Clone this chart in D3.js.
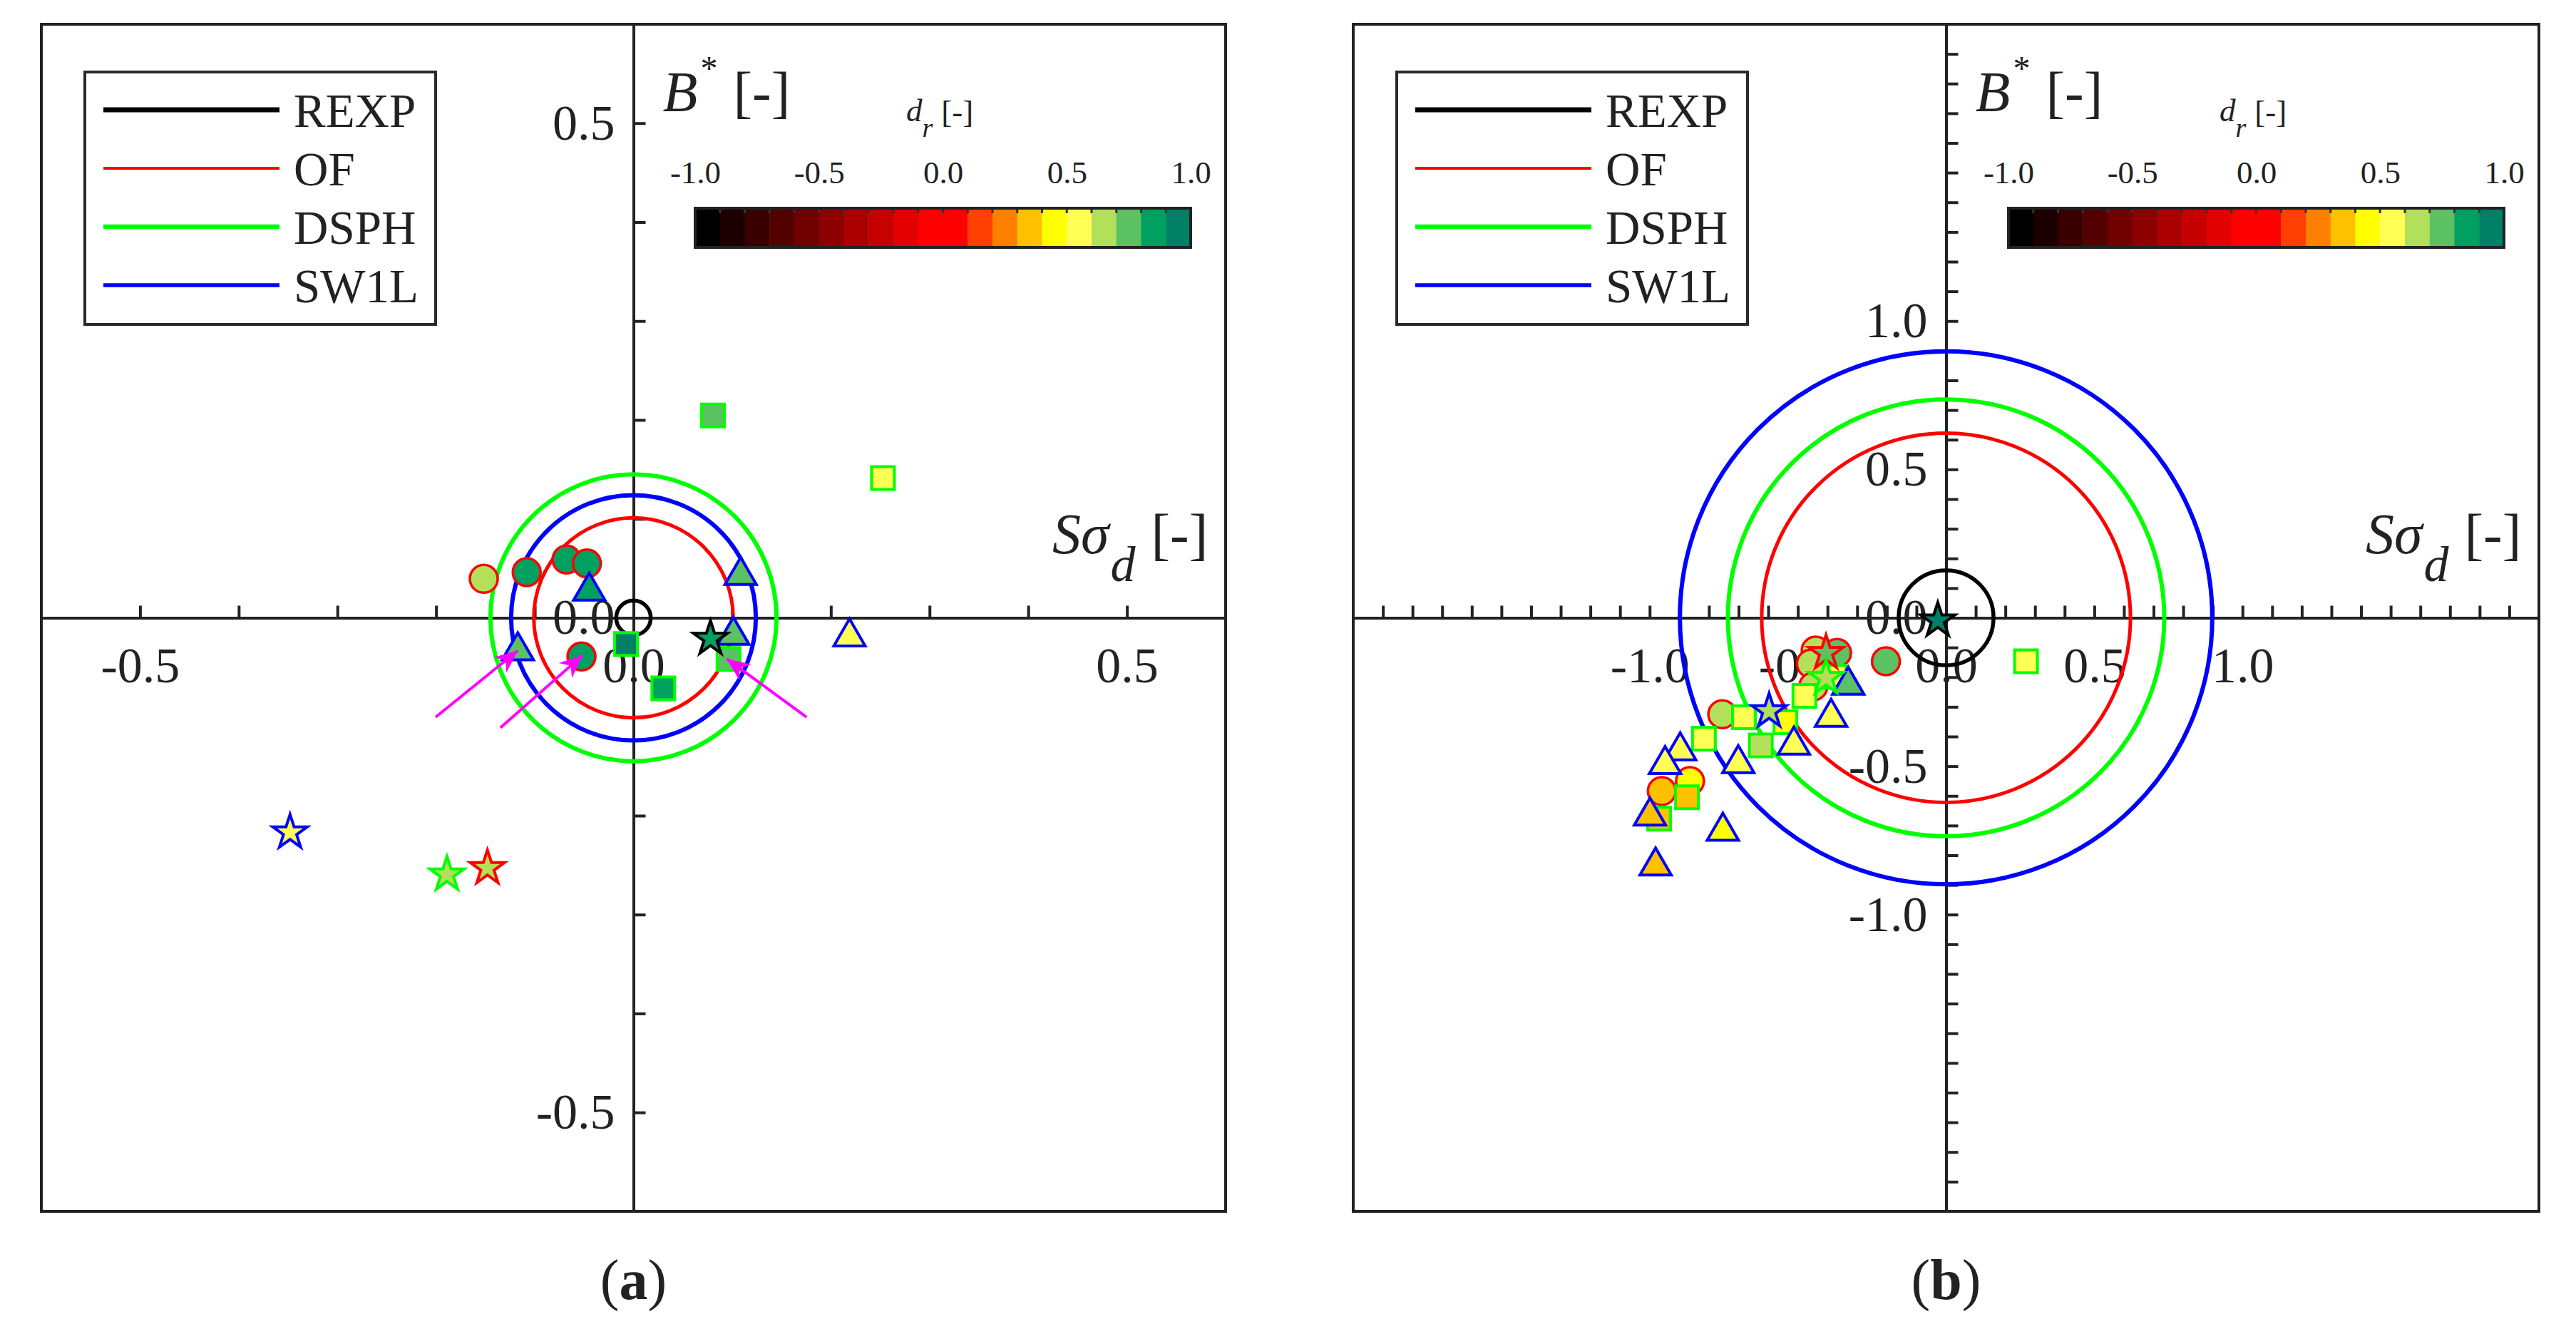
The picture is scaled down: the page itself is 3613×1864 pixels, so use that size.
<!DOCTYPE html>
<html><head><meta charset="utf-8">
<script src="https://cdn.jsdelivr.net/npm/d3@7"></script>
<style>
body{margin:0;background:#fff}
svg{display:block;background:#fff}
text{font-family:"Liberation Serif","Times New Roman",serif;fill:#222}
</style>
</head><body>
<svg id="chart" width="3613" height="1864"></svg>
<script>
// ---------------- data ----------------
const models = ["REXP", "OF", "DSPH", "SW1L"];
const modelColors = ["#000000", "#ff0000", "#00ff00", "#0000ff"];
const legendLineWidths = [7, 4, 6.5, 5.5];
const ringWidths = [5.5, 5, 6, 6];

// circle radii (per model) for each panel
const ringRadiiA = [0.0175, 0.101, 0.145, 0.124];
const ringRadiiB = [0.16, 0.622, 0.736, 0.898];

// colour bar of d_r
const drColors = ["#000000","#1c0000","#380000","#550000","#710000","#8d0000","#aa0000","#c60000","#e20000","#ff0000",
                  "#ff0000","#ff4000","#ff8000","#ffc000","#ffff00","#ffff55","#b3e05a","#5bc163","#00a060","#008066"];
const drTicks = [-1, -0.5, 0, 0.5, 1];
const drTickLabels = ["-1.0", "-0.5", "0.0", "0.5", "1.0"];

// axis ticks
const minorTicksA = [-0.5,-0.4,-0.3,-0.2,-0.1,0.1,0.2,0.3,0.4,0.5];
const labelTicksA = [-0.5, 0, 0.5];
const labelTextA = ["-0.5", "0.0", "0.5"];
const minorTicksB = [-1.9,-1.8,-1.7,-1.6,-1.5,-1.4,-1.3,-1.2,-1.1,-1.0,-0.9,-0.8,-0.7,-0.6,-0.5,-0.4,-0.3,-0.2,-0.1,
                     0.1,0.2,0.3,0.4,0.5,0.6,0.7,0.8,0.9,1.0,1.1,1.2,1.3,1.4,1.5,1.6,1.7,1.8,1.9];
const labelTicksB = [-1, -0.5, 0, 0.5, 1];
const labelTextB = ["-1.0", "-0.5", "0.0", "0.5", "1.0"];

// points: [shape, model (stroke), Sσd, B*, d_r]
const pointsA = [
  ["circle","OF",-0.1517, 0.0394,0.65],
  ["circle","OF",-0.1082, 0.0461,0.85],
  ["circle","OF",-0.0678, 0.0589,0.85],
  ["circle","OF",-0.0472, 0.0550,0.85],
  ["circle","OF",-0.0527,-0.0391,0.85],
  ["square","DSPH",-0.0075,-0.0265,0.95],
  ["square","DSPH", 0.0302,-0.0714,0.85],
  ["square","DSPH", 0.0963,-0.0417,0.75],
  ["square","DSPH", 0.0806, 0.2045,0.75],
  ["square","DSPH", 0.2528, 0.1413,0.55],
  ["triangle","SW1L",-0.0448, 0.0315,0.85],
  ["triangle","SW1L", 0.1086, 0.0474,0.75],
  ["triangle","SW1L", 0.1012,-0.0132,0.75],
  ["triangle","SW1L",-0.1172,-0.0288,0.75],
  ["triangle","SW1L", 0.2189,-0.0147,0.55],
  ["star","REXP", 0.0780,-0.0211,0.85],
  ["star","SW1L",-0.3480,-0.2170,0.55],
  ["star","DSPH",-0.1890,-0.2595,0.65],
  ["star","OF",  -0.1480,-0.2530,0.65]
];
const pointsB = [
  ["circle","OF",-0.203,-0.1466,0.75],
  ["circle","OF",-0.440,-0.1106,0.65],
  ["circle","OF",-0.368,-0.1185,0.75],
  ["circle","OF",-0.456,-0.1546,0.65],
  ["circle","OF",-0.448,-0.2310,0.65],
  ["circle","OF",-0.755,-0.3250,0.65],
  ["circle","OF",-0.864,-0.5500,0.45],
  ["circle","OF",-0.959,-0.5840,0.35],
  ["square","DSPH", 0.2696,-0.1466,0.55],
  ["square","DSPH",-0.376,-0.1990,0.55],
  ["square","DSPH",-0.478,-0.2630,0.55],
  ["square","DSPH",-0.682,-0.3350,0.55],
  ["square","DSPH",-0.542,-0.3520,0.45],
  ["square","DSPH",-0.817,-0.4070,0.55],
  ["square","DSPH",-0.625,-0.4300,0.65],
  ["square","DSPH",-0.874,-0.6050,0.35],
  ["square","DSPH",-0.968,-0.6770,0.35],
  ["triangle","SW1L",-0.330,-0.2120,0.75],
  ["triangle","SW1L",-0.388,-0.3200,0.55],
  ["triangle","SW1L",-0.5135,-0.4140,0.55],
  ["triangle","SW1L",-0.701,-0.4760,0.55],
  ["triangle","SW1L",-0.897,-0.4330,0.55],
  ["triangle","SW1L",-0.948,-0.4790,0.55],
  ["triangle","SW1L",-0.999,-0.6530,0.35],
  ["triangle","SW1L",-0.753,-0.7040,0.45],
  ["triangle","SW1L",-0.980,-0.8210,0.35],
  ["star","REXP",-0.028,-0.0090,0.95],
  ["star","OF",  -0.405,-0.1185,0.75],
  ["star","DSPH",-0.405,-0.2027,0.65],
  ["star","SW1L",-0.597,-0.3150,0.65]
];
// annotation arrows in panel (a): [x0, y0, x1, y1]
const arrowsA = [
  [-0.2004,-0.1004,-0.1172,-0.0332],
  [-0.1349,-0.1112,-0.0517,-0.0380],
  [ 0.1754,-0.1004, 0.0947,-0.0416]
];

// ---------------- drawing ----------------
const svg = d3.select("#chart");
const drColor = d3.scaleQuantize().domain([-1, 1]).range(drColors);
const modelColor = d3.scaleOrdinal().domain(models).range(modelColors);
const SERIF = '"Liberation Serif","Times New Roman",serif';

const defs = svg.append("defs");
defs.append("marker").attr("id","arrowhead").attr("markerUnits","userSpaceOnUse")
  .attr("viewBox","-34 -15 36 30").attr("refX",0).attr("refY",0)
  .attr("markerWidth",36).attr("markerHeight",30).attr("orient","auto")
  .append("path").attr("d","M0,0 L-32,-14 L-22,0 L-32,14 Z").attr("fill","#ff00ff");

const starSym = d3.symbol().type(d3.symbolStar).size(720);
function shapePath(shape) {
  if (shape === "circle") return d3.symbol().type(d3.symbolCircle).size(Math.PI * 19.5 * 19.5)();
  if (shape === "square") return d3.symbol().type(d3.symbolSquare).size(32 * 32)();
  if (shape === "triangle") return "M0,-19L22,19L-22,19Z";
  return starSym();
}

function drawPanel(cfg) {
  const g = svg.append("g");
  const x = d3.scaleLinear().domain(cfg.domain).range([cfg.left, cfg.right]);
  const y = d3.scaleLinear().domain(cfg.domain).range([cfg.bottom, cfg.top]);
  const ox = x(0), oy = y(0);

  // x axis: ticks above, labels below; y axis: ticks right, labels left
  const xt = g.append("g").attr("transform", `translate(0,${oy})`)
    .call(d3.axisTop(x).tickValues(cfg.minor).tickSize(17).tickSizeOuter(0).tickFormat(""));
  const yt = g.append("g").attr("transform", `translate(${ox},0)`)
    .call(d3.axisRight(y).tickValues(cfg.minor).tickSize(17).tickSizeOuter(0).tickFormat(""));
  [xt, yt].forEach(a => {
    a.selectAll("path,line").attr("stroke", "#222").attr("stroke-width", 4);
  });
  const xl = g.append("g").attr("transform", `translate(0,${oy})`)
    .call(d3.axisBottom(x).tickValues(cfg.labels).tickSize(0).tickPadding(41)
      .tickFormat((d, i) => cfg.labelText[i]));
  const yl = g.append("g").attr("transform", `translate(${ox},0)`)
    .call(d3.axisLeft(y).tickValues(cfg.labels).tickSize(0).tickPadding(26)
      .tickFormat((d, i) => cfg.labelText[i]));
  [xl, yl].forEach(a => {
    a.attr("font-family", SERIF);
    a.select(".domain").remove();
    a.selectAll("text").attr("font-size", 70).attr("font-family", SERIF).attr("fill", "#222");
  });

  // rings
  g.append("g").selectAll("ellipse").data(models).join("ellipse")
    .attr("cx", ox).attr("cy", oy)
    .attr("rx", (m, i) => x(cfg.rings[i]) - ox)
    .attr("ry", (m, i) => oy - y(cfg.rings[i]))
    .attr("fill", "none")
    .attr("stroke", m => modelColor(m))
    .attr("stroke-width", (m, i) => ringWidths[i]);

  // markers (circles, squares, triangles, stars in that order)
  const order = ["circle", "square", "triangle", "star"];
  const pts = cfg.points.slice().sort((a, b) => order.indexOf(a[0]) - order.indexOf(b[0]));
  g.append("g").selectAll("path").data(pts).join("path")
    .attr("d", d => shapePath(d[0]))
    .attr("transform", d => `translate(${x(d[2])},${y(d[3])})`)
    .attr("fill", d => drColor(d[4]))
    .attr("stroke", d => modelColor(d[1]))
    .attr("stroke-width", d => d[0] === "circle" ? 3.5 : 4)
    .attr("stroke-linejoin", "miter");

  // arrows
  if (cfg.arrows) {
    g.append("g").selectAll("line").data(cfg.arrows).join("line")
      .attr("x1", d => x(d[0])).attr("y1", d => y(d[1]))
      .attr("x2", d => x(d[2])).attr("y2", d => y(d[3]))
      .attr("stroke", "#ff00ff").attr("stroke-width", 4)
      .attr("marker-end", "url(#arrowhead)");
  }

  // frame
  g.append("rect").attr("x", cfg.left).attr("y", cfg.top)
    .attr("width", cfg.right - cfg.left).attr("height", cfg.bottom - cfg.top)
    .attr("fill", "none").attr("stroke", "#222").attr("stroke-width", 4);

  // legend
  const lg = g.append("g").attr("transform", `translate(${cfg.left + 61},${cfg.top + 67})`);
  lg.append("rect").attr("width", 492).attr("height", 354)
    .attr("fill", "#fff").attr("stroke", "#2a2a2a").attr("stroke-width", 4);
  const items = lg.selectAll("g").data(models).join("g")
    .attr("transform", (d, i) => `translate(0,${53 + i * 82})`);
  items.append("line").attr("x1", 26).attr("x2", 273)
    .attr("stroke", d => modelColor(d)).attr("stroke-width", (d, i) => legendLineWidths[i]);
  items.append("text").attr("x", 293).attr("y", 24).attr("font-size", 67).text(d => d);

  // colour bar
  const cbRight = cfg.right - 49, cbLeft = cbRight - 695, cbTop = 292, cbH = 55;
  const cx = d3.scaleLinear().domain([-1, 1]).range([cbLeft, cbRight]);
  const cb = g.append("g");
  cb.selectAll("rect").data(drColors).join("rect")
    .attr("x", (c, i) => cx(-1 + 0.1 * i)).attr("y", cbTop)
    .attr("width", cx(-0.9) - cx(-1) + 0.5).attr("height", cbH).attr("fill", c => c);
  cb.selectAll("line").data(d3.range(1, 20)).join("line")
    .attr("x1", i => cx(-1 + 0.1 * i)).attr("x2", i => cx(-1 + 0.1 * i))
    .attr("y1", cbTop).attr("y2", cbTop + 7).attr("stroke", "#333").attr("stroke-width", 3);
  cb.append("rect").attr("x", cbLeft).attr("y", cbTop).attr("width", cbRight - cbLeft).attr("height", cbH)
    .attr("fill", "none").attr("stroke", "#222").attr("stroke-width", 4);
  const cbl = cb.append("g").attr("transform", `translate(0,${cbTop})`)
    .call(d3.axisTop(cx).tickValues(drTicks).tickSize(0).tickPadding(35).tickFormat((d, i) => drTickLabels[i]));
  cbl.attr("font-family", SERIF);
  cbl.select(".domain").remove();
  cbl.selectAll("text").attr("font-size", 45).attr("font-family", SERIF).attr("fill", "#222");

  // d_r [-] title
  const dt = g.append("text").attr("x", cbLeft + 296).attr("y", 170).attr("font-size", 45);
  dt.append("tspan").attr("font-style", "italic").text("d");
  dt.append("tspan").attr("font-style", "italic").attr("font-size", 38).attr("dy", 22).text("r");
  dt.append("tspan").attr("dy", -20).attr("dx", 12).text("[-]");

  // B* [-]
  const bt = g.append("text").attr("x", ox + 41).attr("y", 156).attr("font-size", 80);
  bt.append("tspan").attr("font-style", "italic").text("B");
  bt.append("tspan").attr("font-size", 48).attr("dy", -44).attr("dx", 4).text("*");
  bt.append("tspan").attr("dy", 44).attr("dx", 22).text("[-]");

  // Sσd [-]
  const st = g.append("text").attr("x", cfg.right - 243).attr("y", oy - 91).attr("font-size", 80);
  st.append("tspan").attr("font-style", "italic").text("S");
  st.append("tspan").attr("font-style", "italic").text("σ");
  st.append("tspan").attr("font-style", "italic").attr("font-size", 70).attr("dy", 39).attr("dx", 2).text("d");
  st.append("tspan").attr("dy", -39).attr("dx", 22).text("[-]");

  // panel label
  const pl = g.append("text").attr("x", ox).attr("y", 1822).attr("font-size", 80).attr("text-anchor", "middle");
  pl.append("tspan").text("(");
  pl.append("tspan").attr("font-weight", "bold").text(cfg.tag);
  pl.append("tspan").text(")");
}

drawPanel({left: 58, right: 1719, top: 34, bottom: 1699, domain: [-0.6, 0.6],
  minor: minorTicksA, labels: labelTicksA, labelText: labelTextA,
  rings: ringRadiiA, points: pointsA, arrows: arrowsA, tag: "a"});
drawPanel({left: 1898, right: 3561, top: 34, bottom: 1699, domain: [-2, 2],
  minor: minorTicksB, labels: labelTicksB, labelText: labelTextB,
  rings: ringRadiiB, points: pointsB, arrows: null, tag: "b"});
</script>
</body></html>
